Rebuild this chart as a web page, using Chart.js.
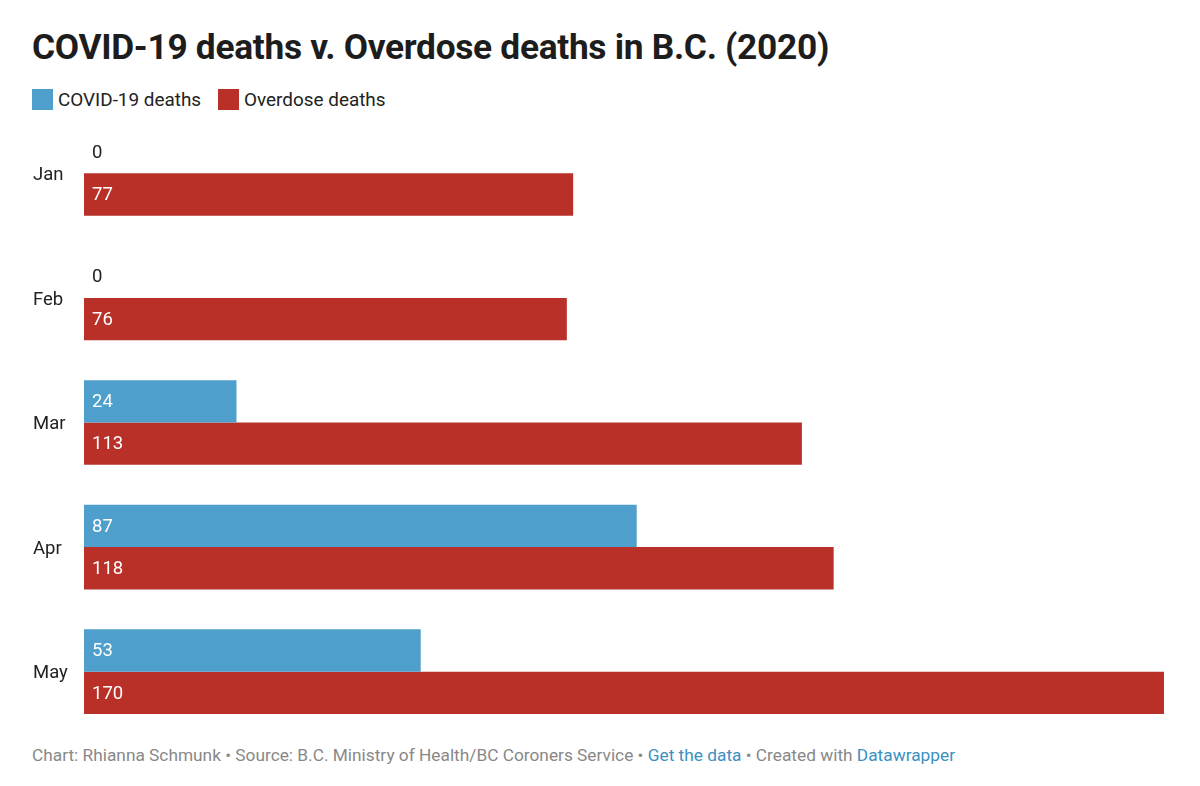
<!DOCTYPE html>
<html><head><meta charset="utf-8">
<script src="https://cdn.jsdelivr.net/npm/chart.js@4/dist/chart.umd.min.js"></script>
<style>
body{margin:0;width:1200px;height:786px;background:#fff;font-family:Roboto,sans-serif;position:relative;overflow:hidden}
#title{position:absolute;left:32px;top:26px;font-size:35.3px;font-weight:bold;color:#1d1d1d;letter-spacing:-0.3px}
#legend{position:absolute;left:32px;top:88px;font-size:18.9px;color:#222;display:flex;gap:17px}
#legend span{display:inline-flex;align-items:center}
#legend i{display:inline-block;width:21px;height:21px;margin-right:5px}
#wrap{position:absolute;left:0;top:111px;width:1200px;height:623px}
#foot{position:absolute;left:32px;top:745px;font-size:17.3px;color:#888}
#foot a{color:#3c90c2;text-decoration:none}
</style></head><body>
<div id="title">COVID-19 deaths v. Overdose deaths in B.C. (2020)</div>
<div id="legend"><span><i style="background:#4e9fcb"></i>COVID-19 deaths</span><span><i style="background:#b83028"></i>Overdose deaths</span></div>
<div id="wrap"><canvas id="c"></canvas></div>
<div id="foot">Chart: Rhianna Schmunk • Source: B.C. Ministry of Health/BC Coroners Service • <a>Get the data</a> • Created with <a>Datawrapper</a></div>
<script>
const months=["Jan","Feb","Mar","Apr","May"];
const covid=[0,0,24,87,53];
const overdose=[77,76,113,118,170];
const labelPlugin={id:'lbl',afterDatasetsDraw(ch){
 const ctx=ch.ctx;ctx.save();ctx.font='18.5px Roboto';ctx.textBaseline='middle';
 ch.data.datasets.forEach((ds,i)=>{ch.getDatasetMeta(i).data.forEach((b,j)=>{
  const v=ds.data[j];ctx.fillStyle=(b.x-b.base)>30?'#fff':'#222';
  ctx.textAlign='left';ctx.fillText(String(v),ch.chartArea.left+8,b.y+1);});});
 ctx.fillStyle='#222';
 ch.scales.y.ticks.forEach((t,k)=>{ctx.fillText(months[k],33,ch.scales.y.getPixelForTick(k)+2);});
 ctx.restore();}};
new Chart(document.getElementById('c'),{type:'bar',
 data:{labels:months,datasets:[
  {label:'COVID-19 deaths',data:covid,backgroundColor:'#4e9fcb',categoryPercentage:0.68,barPercentage:1},
  {label:'Overdose deaths',data:overdose,backgroundColor:'#b83028',categoryPercentage:0.68,barPercentage:1}]},
 options:{indexAxis:'y',responsive:true,maintainAspectRatio:false,animation:false,
  layout:{padding:{left:84,right:36,top:0,bottom:0}},
  plugins:{legend:{display:false},tooltip:{enabled:false}},
  scales:{x:{display:false,min:0,max:170},y:{display:false}}},
 plugins:[labelPlugin]});
</script></body></html>
